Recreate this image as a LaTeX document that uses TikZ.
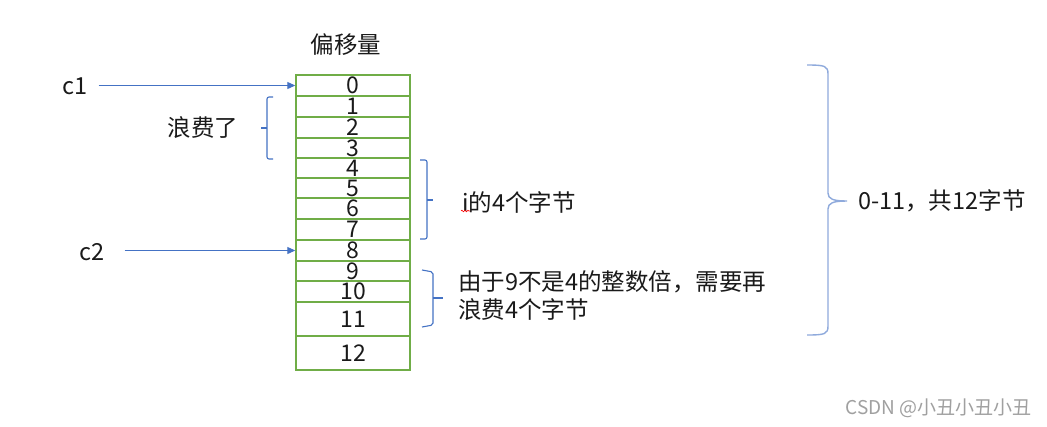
\documentclass[tikz,border=0pt]{standalone}
\usepackage{fontspec}
\setmainfont{Noto Sans CJK SC}
\usetikzlibrary{arrows.meta,decorations.pathmorphing}
\definecolor{tgreen}{HTML}{70AD47}
\definecolor{arrblue}{HTML}{4472C4}
\definecolor{bigblue}{HTML}{8FAADC}
\definecolor{textc}{HTML}{1A1A1A}
\definecolor{wm}{HTML}{A0A0A0}
\begin{document}
\begin{tikzpicture}[x=1pt,y=-1pt,
  cell/.style={draw=tgreen, line width=1.4pt, minimum width=114pt, inner sep=0pt},
  num/.style={inner sep=0pt, font=\fontsize{23}{23}\selectfont, text=textc},
  lbl/.style={inner sep=0pt, font=\fontsize{23.5}{28}\selectfont, text=textc},
  ptr/.style={draw=arrblue, line width=1pt, -{Triangle[length=8pt,width=7pt]}},
  brk/.style={draw=arrblue, line width=1.1pt, rounded corners=2pt},
  bigbrk/.style={draw=bigblue, line width=1.4pt},
]
\useasboundingbox (0,0) rectangle (1047,426);
\fill[white] (0,0) rectangle (1047,426);

% title
\node[lbl] (title) at (346,45) {偏移量};

% table rows
\node[cell, minimum height=21pt] (r0)  at (353,85.5)  {};
\node[cell, minimum height=21pt] (r1)  at (353,106.5) {};
\node[cell, minimum height=21pt] (r2)  at (353,127.5) {};
\node[cell, minimum height=20pt] (r3)  at (353,148)   {};
\node[cell, minimum height=20pt] (r4)  at (353,168)   {};
\node[cell, minimum height=20pt] (r5)  at (353,188)   {};
\node[cell, minimum height=21pt] (r6)  at (353,208.5) {};
\node[cell, minimum height=21pt] (r7)  at (353,229.5) {};
\node[cell, minimum height=21pt] (r8)  at (353,250.5) {};
\node[cell, minimum height=20pt] (r9)  at (353,271)   {};
\node[cell, minimum height=21pt] (r10) at (353,291.5) {};
\node[cell, minimum height=34pt] (r11) at (353,319)   {};
\node[cell, minimum height=34pt] (r12) at (353,353)   {};
\foreach \i in {0,...,12} {\node[num] (n\i) at (r\i.center) {\i};}

% pointers
\node[lbl] (c1) at (75,86) {c1};
\node[lbl] (c2) at (92,252) {c2};
\draw[ptr] ([xshift=11pt]c1.east |- r0.west) -- (r0.west);
\draw[ptr] ([xshift=20pt]c2.east |- r8.west) -- (r8.west);

% wasted 1-3
\node[lbl] (waste) at (203,128) {浪费了};
\draw[brk] (273,97) -- (267,97) -- (267,159) -- (273,159);
\draw[brk] (267,128) -- (261,128);

% i 4 bytes
\node[lbl, anchor=west] (ibytes) at (462,202) {i的4个字节};
\draw[red, line width=0.6pt, decorate, decoration={snake, amplitude=0.8pt, segment length=3pt}] (461,211) -- (470,211);
\draw[brk] (420,160) -- (427,160) -- (427,239) -- (420,239);
\draw[brk] (427,200) -- (433,200);

% padding 9-11
\node[lbl, anchor=west, align=left] (pad) at (458,296) {由于9不是4的整数倍，需要再\\浪费4个字节};
\draw[brk] (422,270) -- (433,272) -- (433,325) -- (422,327);
\draw[brk] (433,298) -- (443,298);

% big brace
\draw[bigbrk] (807,65) .. controls (825,65) and (828,66) .. (828,74) -- (828,193)
  .. controls (828,199) and (833,201) .. (847,201)
  .. controls (833,201) and (828,203) .. (828,209) -- (828,326)
  .. controls (828,334) and (825,335) .. (807,335);
\node[lbl, anchor=west] (total) at (858,201) {0-11，共12字节};

% watermark
\node[inner sep=0pt, anchor=east, text=wm, font=\fontsize{19}{19}\selectfont] (wmark) at (1032,408) {CSDN @小丑小丑小丑};
\end{tikzpicture}
\end{document}
